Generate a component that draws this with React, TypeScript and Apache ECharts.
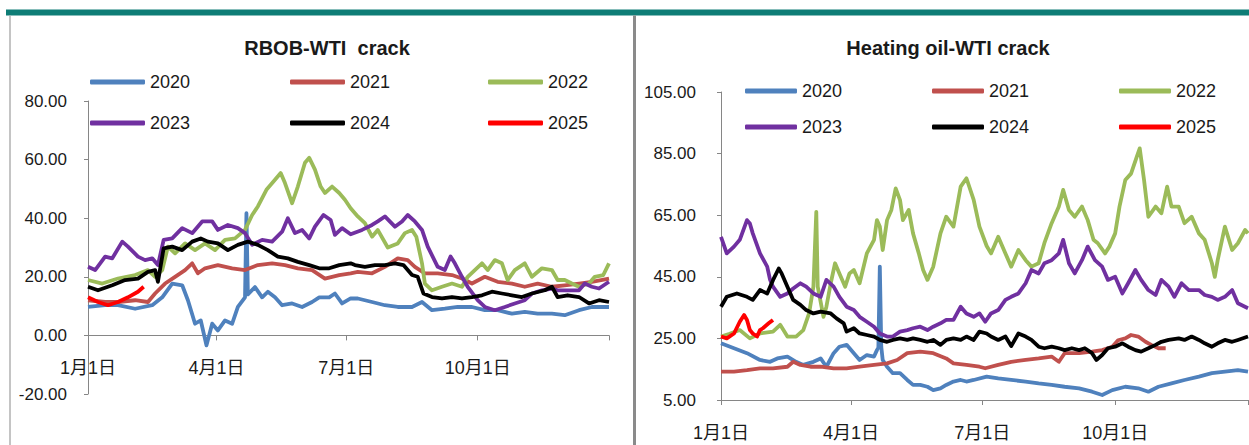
import React, { useEffect, useRef } from "react";
import * as echarts from "echarts";

const YEARS = ["2020", "2021", "2022", "2023", "2024", "2025"];
const COLORS = ["#4f81bd", "#c0504d", "#9bbb59", "#7030a0", "#000000", "#ff0000"];
const TICK_DAYS = [0, 90, 181, 273, 365];
const TICK_LABELS = ["1月1日", "4月1日", "7月1日", "10月1日", ""];
const HO_Y_TICKS = [5, 25, 45, 65, 85, 105];
const TITLES = ["RBOB-WTI  crack", "Heating oil-WTI crack"];

// RBOB-WTI crack: [day of year, value]
const rbob2020 = [[0,9.7],[12,10.3],[21,10.3],[33,9.1],[45,10.3],[52,13],[59,17.7],[66,17.1],[70,12],[75,4],[79,5.1],[83,-3.4],[87,4],[91,1.7],[96,5.1],[101,4],[105,9.7],[110,13],[111,41.7],[112,14],[117,16.5],[122,13],[126,14.9],[131,13],[136,10.3],[143,10.9],[150,9.7],[157,11.4],[162,13],[169,13],[173,14.3],[178,10.9],[184,12.6],[189,12.6],[199,11.4],[208,10.3],[217,9.7],[227,9.7],[234,11.4],[241,8.6],[250,9.1],[259,9.7],[269,9.7],[278,8.6],[287,8.6],[297,7.4],[306,8],[315,7.4],[325,7.4],[334,6.9],[344,8.6],[353,9.7],[365,9.7]];
const rbob2021 = [[0,12],[12,11.4],[21,11.4],[33,12],[42,11.4],[47,14.3],[54,17.7],[61,20],[68,22.3],[73,24.6],[77,21.2],[82,22.9],[91,24],[101,22.9],[110,22.3],[119,24],[129,24.6],[138,24],[147,22.9],[157,22.3],[166,19.4],[176,20.6],[184,21.2],[189,21.7],[199,21.2],[208,23.4],[217,26.3],[224,25.7],[229,23.4],[236,21.2],[245,21.2],[255,20.6],[262,19.4],[269,17.7],[278,20],[287,18.3],[297,17.7],[306,16.6],[315,17.7],[325,16.6],[334,17.1],[344,17.7],[353,18.3],[365,19.4]];
const rbob2022 = [[0,18.9],[10,17.7],[21,19.4],[33,20.6],[42,22.3],[47,20],[52,22.3],[56,30.3],[61,28],[68,31.4],[75,29.1],[82,31.4],[89,29.1],[96,32.6],[103,33.1],[110,36],[115,41.1],[119,44],[125,49.7],[131,53.1],[135,55.4],[138,52],[143,45.1],[147,50.8],[152,58.9],[155,60.6],[159,56.6],[163,50.8],[166,48.6],[171,50.8],[176,48.6],[180,46.3],[184,43.4],[189,40.6],[194,38.3],[199,33.7],[203,36],[210,30],[217,31.4],[222,34.9],[227,36],[230,33.7],[234,24.6],[236,17.7],[241,15.4],[248,16.6],[255,17.7],[262,16.6],[266,20],[271,22.3],[276,24.6],[280,22.3],[285,25.7],[290,24.6],[294,18.9],[299,22.3],[306,24.6],[311,20],[318,22.9],[325,22.3],[329,18.9],[334,18.9],[339,17.7],[344,16.6],[351,17.7],[355,20],[361,20.6],[365,24.6]];
const rbob2023 = [[0,23.4],[5,22.3],[12,26.9],[17,26.3],[24,32],[28,30.3],[35,26.9],[40,25.7],[45,26.3],[49,24],[53,32.6],[59,33.1],[66,36.6],[73,34.9],[80,38.9],[87,38.9],[91,36],[98,37.7],[105,36.6],[110,34.9],[115,30.9],[122,32.6],[129,32],[136,35.4],[140,40],[145,34.9],[150,36],[155,33.1],[159,37.1],[165,41.1],[170,39.4],[173,34.3],[178,36.6],[184,34.5],[192,36],[199,37.7],[203,38.9],[208,40.6],[215,37.1],[220,38.9],[224,41.1],[229,38.9],[234,36],[238,30.3],[245,23.4],[250,22.3],[254,26.9],[257,24.6],[262,20],[266,16.6],[273,12],[278,9.7],[285,8.6],[292,9.7],[299,10.9],[306,12],[311,14.3],[318,15.4],[325,16],[329,15.4],[336,15.4],[344,15.4],[348,17.7],[353,16.6],[358,16],[365,18.3]];
const rbob2024 = [[0,16.6],[7,15.4],[17,17.1],[26,18.9],[35,19.4],[42,21.7],[47,22.3],[49,18.3],[53,29.7],[59,30.3],[66,29.1],[73,32],[79,33.1],[84,32],[91,31.4],[98,29.1],[105,30.9],[112,32],[119,30.9],[126,29.1],[133,26.9],[140,26.3],[147,25.1],[155,24],[162,22.9],[169,22.9],[176,24],[184,24.6],[187,24],[194,23.4],[201,24],[208,24],[215,24.6],[221,24],[227,20.6],[231,20],[235,14.3],[241,13.1],[248,12.6],[255,13.1],[262,12.6],[269,13.1],[276,13.7],[283,14.9],[290,14.3],[297,13.7],[304,13.1],[311,14.3],[320,15.4],[325,16.6],[329,13.1],[336,13.7],[344,13.1],[351,10.9],[358,12],[365,11.4]];
const rbob2025 = [[0,13],[7,11.4],[14,10.3],[21,11.4],[28,13],[35,14.9],[39,16.6]];

// Heating oil-WTI crack: [day of year, value]
const ho2020 = [[0,23.4],[9,21.8],[18,20.2],[27,18],[34,17.4],[39,18.5],[46,19.1],[52,17.4],[57,16.4],[64,17.4],[69,18.5],[73,15.8],[78,20.2],[82,22.3],[87,22.9],[92,20.2],[96,18],[101,19.6],[106,19.1],[108,21.2],[109,22],[110,48.3],[111,22.3],[112,18],[115,15.8],[119,13.7],[124,13.7],[129,11.5],[133,9.9],[138,9.9],[143,9.3],[147,8.2],[152,8.8],[156,9.9],[161,11],[166,11.5],[170,11],[175,11.5],[184,12.6],[192,12],[201,11.5],[211,11],[220,10.4],[229,9.9],[238,9.3],[248,8.8],[257,7.7],[264,6.6],[271,8.2],[280,9.3],[289,8.8],[296,7.7],[303,9.3],[312,10.4],[321,11.5],[331,12.6],[340,13.7],[349,14.2],[358,14.7],[365,14.2]];
const ho2021 = [[0,14.2],[9,14.2],[18,14.7],[27,15.3],[36,15.3],[46,15.8],[50,17.4],[55,16.4],[62,15.8],[69,15.8],[78,15.3],[87,15.3],[96,15.8],[106,16.4],[115,16.9],[122,18],[129,20.2],[138,20.7],[147,20.2],[156,18.5],[161,16.9],[170,16.4],[179,15.8],[183,15.3],[192,16.4],[201,17.4],[211,18],[220,18.5],[229,19.1],[234,17.4],[238,20.2],[248,20.2],[257,20.7],[264,21.2],[271,22.3],[275,24.4],[280,25],[284,26.1],[289,25.6],[294,23.9],[298,22.9],[303,21.8],[308,21.8]];
const ho2022 = [[0,25.6],[6,26.5],[13,27.7],[20,25],[27,26.6],[36,27.2],[41,29.4],[46,25.6],[52,25.6],[57,27.7],[61,33.1],[64,41.8],[66,66.1],[67,41.8],[71,32],[73,35.3],[76,42.9],[79,49.4],[82,46.1],[86,41.8],[89,46.1],[92,47.2],[96,42.9],[101,52.6],[106,57],[108,63.4],[110,61.3],[112,53.7],[115,63.4],[118,66.7],[121,73.7],[124,69.9],[126,63.4],[130,66.7],[133,59.1],[137,52.6],[140,47.2],[143,44],[147,48.3],[152,59.1],[156,64.5],[161,61.3],[166,74.3],[170,77],[175,70],[179,61.3],[184,55],[187,52.6],[192,58],[197,52.6],[201,48.3],[206,53.7],[211,50.4],[215,48.3],[220,49.4],[224,56],[229,62.4],[234,67.8],[237,73.2],[241,66.7],[245,64.5],[250,67.8],[254,63.4],[258,57],[261,55.9],[266,52.6],[269,54.8],[273,59.1],[276,67.8],[280,76.4],[284,78.5],[288,84],[290,86.7],[293,76.4],[296,64.5],[301,67.8],[305,65.6],[309,74.3],[312,67.8],[317,67.8],[321,62.4],[326,64.5],[331,59.1],[335,57],[340,49.4],[342,45],[344,50.4],[349,61.3],[354,53.7],[358,55.9],[363,60.2],[365,59.1]];
const ho2023 = [[0,58],[4,52.6],[9,54.8],[13,57],[18,63.4],[20,62.3],[22,59.1],[27,52.6],[32,48.3],[34,44],[36,41.8],[41,38.5],[46,39.6],[50,41.2],[55,42.9],[59,41.8],[64,39.6],[69,38.5],[73,44],[78,41.8],[82,38.5],[87,35.3],[92,34.2],[96,32],[101,30.4],[106,28.8],[110,26.6],[115,25.6],[119,25.6],[124,27.2],[129,27.7],[133,28.3],[138,28.8],[143,27.7],[147,28.8],[152,29.9],[156,31],[161,31],[166,35.3],[170,33.1],[175,32],[179,33.1],[183,30.4],[187,33.1],[192,34.2],[197,37.5],[201,38.5],[206,39.6],[211,42.9],[215,47.2],[220,46.1],[224,49.4],[229,50.4],[234,52.6],[237,57],[241,49.4],[245,46.1],[250,50.4],[254,54.8],[259,50.4],[264,48.3],[268,44],[273,45],[278,39.6],[282,42.9],[287,47.2],[291,44],[296,40.7],[301,39.1],[305,44],[310,41.8],[314,38.5],[319,42.9],[324,40.7],[331,40.7],[335,39.1],[340,38.5],[344,37.5],[349,38.5],[354,40.7],[358,36.4],[365,34.8]];
const ho2024 = [[0,35.3],[4,38.5],[11,39.6],[18,38.5],[22,37.5],[27,40.7],[32,39.6],[36,43.9],[40,47.7],[42,46.1],[46,41.8],[50,37.5],[55,35.9],[59,34.2],[64,33.1],[69,33.7],[76,33.1],[80,31.5],[85,29.9],[87,27.2],[92,28.3],[96,26.6],[101,26.1],[106,25.6],[110,24.5],[115,23.9],[119,24.5],[124,25],[129,24.5],[133,25],[138,24.5],[143,23.9],[147,24.5],[152,22.9],[156,24.5],[161,25],[166,24.5],[170,25.6],[175,24.5],[179,27.2],[184,26.6],[187,25.6],[192,24.5],[197,25.6],[201,22.5],[206,26.6],[211,25.6],[215,24.5],[220,22.3],[224,21.8],[229,22.3],[234,21.8],[238,21.2],[243,21.8],[248,21.2],[252,21.8],[257,20.2],[260,18],[264,19.6],[268,21.8],[273,22.3],[278,23.4],[282,22.3],[287,21.2],[291,20.7],[296,21.8],[301,22.9],[305,23.9],[310,24.5],[317,25],[321,24.5],[326,25.6],[331,24.5],[335,23.4],[340,22.3],[344,23.4],[349,24.5],[354,23.9],[358,24.5],[365,25.6]];
const ho2025 = [[0,25.6],[4,25],[9,26.6],[13,30.4],[16,32.6],[18,31],[20,27.7],[22,26.6],[25,25.6],[27,27.7],[29,28.3],[33,29.9],[36,31]];

const RBOB_SERIES = [rbob2020, rbob2021, rbob2022, rbob2023, rbob2024, rbob2025];
const HO_SERIES = [ho2020, ho2021, ho2022, ho2023, ho2024, ho2025];

const FONT = "'Liberation Sans', 'Noto Sans CJK SC', sans-serif";
const TEXT = "#1a1a1a";
const AXIS = "#868686";

// left panel geometry: y range -20..80 over 293px; x axis drawn at value 0
const LEFT_GRID = { left: 88, top: 101, width: 521, height: 293 };
const LEFT_Y = { min: -20, max: 80 };
const LEFT_X_OFFSET = -(LEFT_GRID.height * (0 - LEFT_Y.min)) / (LEFT_Y.max - LEFT_Y.min);

function buildOption() {
  const mkSeries = (arrs: number[][][], gi: number) =>
    arrs.map((d, i) => ({
      type: "line",
      name: YEARS[i],
      xAxisIndex: gi,
      yAxisIndex: gi,
      data: d,
      showSymbol: false,
      symbol: "none",
      lineStyle: { width: 3.8, color: COLORS[i], join: "round" },
      itemStyle: { color: COLORS[i] },
      emphasis: { disabled: true },
    }));

  const legendPos = [
    { cols: [90, 290, 488], rows: [82, 123], w: 55 },
    { cols: [745, 932, 1119], rows: [91, 127], w: 52 },
  ];
  const legends: any[] = [];
  legendPos.forEach((p) => {
    YEARS.forEach((y, i) => {
      legends.push({
        left: p.cols[i % 3],
        top: p.rows[Math.floor(i / 3)] - 9,
        data: [y],
        icon: "roundRect",
        itemWidth: p.w,
        itemHeight: 5,
        padding: 0,
        selectedMode: false,
        textStyle: { fontSize: 18, color: TEXT, fontFamily: FONT },
      });
    });
  });

  const xAxisBase = (gi: number, offset: number) => ({
    gridIndex: gi,
    type: "value",
    min: 0,
    max: 365,
    offset,
    axisLine: { show: true, onZero: false, lineStyle: { color: AXIS, width: 1 } },
    axisTick: { show: true, customValues: TICK_DAYS, length: 5, lineStyle: { color: AXIS } },
    axisLabel: {
      customValues: TICK_DAYS.slice(0, 4),
      formatter: (v: number) => TICK_LABELS[TICK_DAYS.indexOf(v)] ?? "",
      margin: 24,
      fontSize: 18,
      color: TEXT,
      fontFamily: FONT,
    },
    splitLine: { show: false },
  });

  return {
    animation: false,
    backgroundColor: "#ffffff",
    textStyle: { fontFamily: FONT },
    grid: [
      LEFT_GRID,
      { left: 721, top: 92, width: 527, height: 308 },
    ],
    xAxis: [xAxisBase(0, LEFT_X_OFFSET), xAxisBase(1, 0)],
    yAxis: [
      {
        gridIndex: 0,
        type: "value",
        min: LEFT_Y.min,
        max: LEFT_Y.max,
        interval: 20,
        axisLine: { show: true, lineStyle: { color: AXIS, width: 1 } },
        axisTick: { show: true, length: 4, lineStyle: { color: AXIS } },
        axisLabel: { formatter: (v: number) => v.toFixed(2), margin: 21, fontSize: 17, color: TEXT, fontFamily: FONT },
        splitLine: { show: false },
      },
      {
        gridIndex: 1,
        type: "value",
        min: 5,
        max: 105,
        axisLine: { show: true, lineStyle: { color: AXIS, width: 1 } },
        axisTick: { show: true, customValues: HO_Y_TICKS, length: 4, lineStyle: { color: AXIS } },
        axisLabel: {
          customValues: HO_Y_TICKS,
          formatter: (v: number) => v.toFixed(2),
          margin: 25,
          fontSize: 17,
          color: TEXT,
          fontFamily: FONT,
        },
        splitLine: { show: false },
      },
    ],
    legend: legends,
    series: [...mkSeries(RBOB_SERIES, 0), ...mkSeries(HO_SERIES, 1)],
    graphic: [
      { type: "rect", shape: { x: 6, y: 9.5, width: 1243, height: 6 }, style: { fill: "#0e7d76" }, silent: true },
      { type: "line", shape: { x1: 10, y1: 15.5, x2: 10, y2: 445 }, style: { stroke: "#b0b0b0", lineWidth: 1.5 }, silent: true },
      { type: "line", shape: { x1: 634.5, y1: 15.5, x2: 634.5, y2: 445 }, style: { stroke: "#8a8a8a", lineWidth: 3 }, silent: true },
      {
        type: "text",
        x: 327,
        y: 48,
        style: {
          text: TITLES[0],
          align: "center",
          verticalAlign: "middle",
          font: `bold 20px ${FONT}`,
          fill: TEXT,
        },
        silent: true,
      },
      {
        type: "text",
        x: 948,
        y: 48,
        style: {
          text: TITLES[1],
          align: "center",
          verticalAlign: "middle",
          font: `bold 20px ${FONT}`,
          fill: TEXT,
        },
        silent: true,
      },
    ],
  };
}

export default function App() {
  const ref = useRef<HTMLDivElement>(null);
  useEffect(() => {
    if (!ref.current) return;
    const chart = echarts.init(ref.current, null, { renderer: "svg" });
    chart.setOption(buildOption() as any);
    return () => chart.dispose();
  }, []);
  return (
    <div
      ref={ref}
      style={{ position: "absolute", left: 0, top: 0, width: 1249, height: 445, background: "#fff" }}
    />
  );
}
